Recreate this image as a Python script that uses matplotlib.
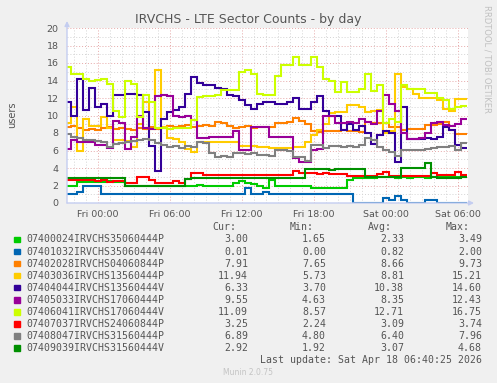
import numpy as np
import matplotlib
matplotlib.use("Agg")
import matplotlib.pyplot as plt

# ---------------- data ----------------
# sample times in hours relative to Fri 00:00 (half-hour samples)
hours = np.arange(-2.5, 30.51, 0.5)

series_names = [
    "07400024IRVCHS35060444P", "07401032IRVCHS35060444V", "07402028IRVCHS04060844P",
    "07403036IRVCHS13560444P", "07404044IRVCHS13560444V", "07405033IRVCHS17060444P",
    "07406041IRVCHS17060444V", "07407037IRVCHS24060844P", "07408047IRVCHS31560444P",
    "07409039IRVCHS31560444V",
]
series_colors = ["#00CC00", "#0066B3", "#FF8000", "#FFCC00", "#330099",
                 "#990099", "#CCFF00", "#FF0000", "#808080", "#008F00"]

cur_vals = [3.00, 0.01, 7.91, 11.94, 6.33, 9.55, 11.09, 3.25, 6.89, 2.92]
min_vals = [1.65, 0.00, 7.65, 5.73, 3.70, 4.63, 8.57, 2.24, 4.80, 1.92]
avg_vals = [2.33, 0.82, 8.66, 8.81, 10.38, 8.35, 12.71, 3.09, 6.40, 3.07]
max_vals = [3.49, 2.00, 9.73, 15.21, 14.60, 12.43, 16.75, 3.74, 7.96, 4.68]

s_07400024 = [2.0, 2.0, 2.35, 2.4, 2.45, 2.45, 2.4, 2.5, 2.45, 2.4,
              2.0, 1.95, 2.0, 2.0, 1.95, 1.9, 1.9, 1.9, 1.95, 1.9,
              1.95, 2.0, 2.05, 2.0, 1.9, 1.95, 1.9, 1.95, 2.3, 2.5,
              2.3, 2.2, 1.9, 1.75, 2.6, 2.0, 2.0, 1.95, 2.0, 1.95,
              2.0, 1.7, 1.7, 1.7, 1.7, 1.7, 1.7, 2.6, 2.9, 2.9,
              2.9, 2.9, 3.0, 3.0, 2.95, 2.9, 3.0, 2.9, 3.0, 3.0,
              2.9, 3.0, 3.0, 2.95, 3.0, 3.0, 3.0]
s_07401032 = [1.0, 1.0, 1.3, 2.0, 2.0, 1.9, 1.0, 1.0, 1.0, 1.0,
              1.0, 1.0, 1.0, 1.0, 1.0, 1.0, 1.0, 1.0, 1.0, 1.0,
              1.0, 1.0, 1.0, 1.0, 1.0, 1.0, 1.0, 1.0, 1.0, 1.0,
              1.7, 1.0, 1.0, 1.3, 1.0, 1.0, 1.0, 1.0, 1.0, 1.0,
              1.0, 1.0, 1.0, 1.0, 1.0, 1.0, 1.0, 1.0, 0.0, 0.0,
              0.0, 0.0, 0.0, 0.6, 0.4, 0.8, 0.3, 0.0, 0.0, 0.0,
              0.3, 0.4, 0.0, 0.0, 0.0, 0.0, 0.01]
s_07402028 = [8.7, 8.8, 8.6, 8.4, 8.5, 8.4, 8.6, 8.7, 8.5, 8.6,
              8.5, 8.4, 8.6, 8.5, 8.7, 8.5, 8.6, 8.8, 8.7, 8.8,
              8.9, 8.7, 8.8, 8.9, 8.8, 9.3, 9.2, 8.8, 8.6, 8.7,
              8.8, 8.6, 8.7, 8.7, 8.7, 9.1, 9.2, 9.3, 9.7, 9.4,
              9.0, 8.2, 8.1, 8.2, 8.2, 8.2, 8.4, 8.2, 8.2, 8.1,
              9.3, 9.1, 9.1, 9.1, 8.7, 8.7, 8.4, 8.5, 8.5, 8.5,
              8.9, 8.9, 9.0, 9.3, 8.3, 7.9, 7.91]
s_07403036 = [9.1, 11.0, 6.0, 9.6, 8.8, 8.8, 9.8, 8.6, 7.2, 7.2,
              7.1, 6.4, 9.0, 11.5, 8.5, 15.2, 8.7, 7.4, 7.3, 7.0,
              6.2, 5.8, 7.0, 7.0, 7.0, 7.0, 7.0, 7.0, 7.0, 6.5,
              6.5, 6.5, 6.4, 6.4, 6.3, 6.3, 6.3, 6.3, 6.4, 6.4,
              7.0, 7.8, 8.4, 9.0, 10.3, 10.4, 10.4, 11.2, 11.2, 11.0,
              10.4, 10.5, 10.6, 8.0, 8.2, 14.8, 13.3, 13.0, 12.5, 12.0,
              12.0, 12.0, 11.8, 10.8, 10.5, 11.9, 11.94]
s_07404044 = [11.5, 10.0, 14.2, 10.6, 13.1, 11.0, 11.3, 10.0, 12.3, 12.4,
              12.5, 12.5, 12.4, 10.4, 6.5, 3.7, 9.6, 10.4, 10.6, 11.0,
              12.5, 14.4, 13.7, 13.5, 13.5, 13.2, 13.0, 12.4, 12.2, 11.8,
              11.2, 10.7, 11.3, 11.5, 11.5, 11.3, 11.3, 11.5, 12.0, 10.7,
              10.7, 11.5, 12.2, 10.5, 10.0, 9.9, 8.3, 9.0, 8.3, 8.8,
              8.0, 6.8, 7.8, 8.2, 8.0, 4.7, 11.0, 7.3, 7.3, 7.3,
              7.4, 7.3, 7.5, 8.7, 8.3, 6.6, 6.33]
s_07405033 = [6.2, 7.2, 7.0, 7.0, 7.0, 6.6, 6.6, 6.3, 9.4, 9.2,
              6.2, 7.5, 10.0, 8.6, 8.5, 12.2, 12.3, 12.2, 10.0, 9.8,
              9.9, 9.5, 7.4, 7.4, 7.6, 7.6, 7.5, 7.6, 8.2, 6.1,
              6.1, 8.7, 8.7, 8.7, 7.6, 7.6, 7.6, 7.6, 5.2, 4.7,
              4.7, 6.1, 6.2, 10.0, 10.0, 9.1, 9.1, 9.3, 9.2, 9.6,
              9.3, 9.0, 10.5, 12.4, 11.3, 10.5, 8.0, 7.3, 7.3, 7.4,
              8.0, 9.2, 9.3, 8.9, 8.8, 9.0, 9.55]
s_07406041 = [15.5, 14.8, 14.7, 14.2, 14.0, 14.1, 14.2, 13.6, 10.5, 9.8,
              14.0, 13.6, 9.8, 12.3, 11.5, 8.6, 8.6, 8.5, 8.6, 8.6,
              8.6, 9.5, 12.1, 12.2, 12.2, 12.3, 12.9, 12.9, 12.9, 15.0,
              15.2, 14.8, 12.5, 12.3, 12.4, 14.5, 15.8, 15.8, 16.7, 15.8,
              15.8, 16.7, 15.5, 14.2, 13.9, 12.7, 13.8, 12.7, 12.7, 13.0,
              14.8, 12.8, 13.5, 9.1, 9.6, 9.3, 13.5, 13.0, 13.0, 13.0,
              12.6, 12.6, 12.0, 11.8, 10.8, 11.0, 11.09]
s_07407037 = [2.6, 2.6, 2.6, 2.6, 2.6, 2.5, 2.6, 2.35, 2.55, 2.5,
              2.25, 2.3, 3.0, 3.0, 2.6, 2.25, 2.25, 2.25, 2.55, 2.25,
              2.8, 3.4, 3.4, 3.2, 3.25, 3.2, 3.2, 3.15, 3.2, 3.2,
              3.25, 3.2, 3.2, 3.2, 3.2, 3.2, 3.25, 3.2, 3.7, 3.4,
              3.4, 3.4, 3.35, 3.4, 3.3, 3.3, 3.3, 3.1, 3.1, 3.1,
              3.1, 3.1, 3.3, 3.6, 3.1, 3.1, 3.1, 3.1, 3.1, 3.1,
              3.1, 3.4, 3.2, 3.2, 3.2, 3.6, 3.25]
s_07408047 = [7.9, 7.6, 7.4, 7.2, 7.2, 7.1, 7.0, 6.4, 6.8, 6.9,
              7.0, 7.1, 7.2, 7.3, 7.2, 6.9, 6.6, 6.4, 6.5, 6.3,
              6.5, 6.4, 7.0, 6.9, 5.7, 5.3, 5.4, 5.3, 5.7, 5.7,
              5.6, 5.7, 5.5, 5.5, 5.4, 6.1, 6.1, 6.0, 5.3, 5.3,
              4.8, 6.6, 6.6, 6.3, 6.5, 6.5, 6.4, 6.5, 6.4, 6.6,
              7.4, 7.2, 6.4, 6.1, 5.8, 5.4, 6.1, 6.1, 6.1, 6.1,
              6.2, 6.3, 6.4, 6.4, 6.5, 6.1, 6.89]
s_07409039 = [2.9, 2.9, 2.9, 2.9, 2.9, 2.9, 2.9, 2.9, 2.9, 2.9,
              2.0, 1.95, 1.95, 2.0, 2.0, 1.95, 2.0, 2.0, 2.0, 2.0,
              2.8, 2.9, 2.9, 2.9, 2.9, 2.9, 2.9, 2.9, 2.9, 2.9,
              2.9, 2.9, 2.9, 2.9, 2.9, 2.9, 2.9, 2.9, 2.9, 2.9,
              3.85, 3.85, 3.85, 3.85, 3.8, 3.85, 3.85, 3.85, 3.85, 3.85,
              3.0, 3.0, 3.0, 3.0, 3.0, 3.0, 4.0, 4.0, 4.0, 4.0,
              4.6, 2.95, 2.9, 2.9, 2.9, 2.9, 2.92]

series_values = [s_07400024, s_07401032, s_07402028, s_07403036, s_07404044,
                 s_07405033, s_07406041, s_07407037, s_07408047, s_07409039]

x_tick_hours = [0, 6, 12, 18, 24, 30]
x_tick_labels = ["Fri 00:00", "Fri 06:00", "Fri 12:00", "Fri 18:00", "Sat 00:00", "Sat 06:00"]
y_ticks = list(range(0, 21, 2))

# ---------------- figure ----------------
W, H = 497, 383
BG = "#F0F0F0"
TXT = "#555555"
fig = plt.figure(figsize=(W / 100, H / 100), dpi=100, facecolor=BG)

def fx(px):
    return px / W

def fy(py):
    return 1 - py / H

ax = fig.add_axes([fx(67), fy(203), fx(468) - fx(67), fy(28) - fy(203)])
ax.set_facecolor("white")
ax.set_xlim(-2.583, 30.833)
ax.set_ylim(0, 20)

# grid
ax.set_xticks(x_tick_hours)
ax.set_xticks(np.arange(-2, 31, 1), minor=True)
ax.set_yticks(y_ticks)
ax.set_yticks(np.arange(1, 20, 2), minor=True)
ax.grid(which="minor", color="#d4d4d4", linestyle=(0, (1, 2)), linewidth=0.7)
ax.grid(which="major", color="#e6a8a8", linestyle=(0, (1, 2)), linewidth=0.7)
ax.set_axisbelow(True)
for s in ax.spines.values():
    s.set_visible(False)

ax.set_xticklabels(x_tick_labels)
ax.tick_params(axis="both", which="both", length=0, colors=TXT, labelsize=6.8)
ax.tick_params(axis="x", pad=5)
ax.tick_params(axis="y", pad=6)

# series as step lines
edges = np.append(hours - 0.25, hours[-1] + 0.25)
for vals, col in zip(series_values, series_colors):
    ax.stairs(vals, edges, color=col, linewidth=1.5, baseline=None)

# axis lines with arrows
axis_col = "#c4cdf0"
ax.annotate("", xy=(0, 1.04), xytext=(0, 0), xycoords="axes fraction",
            arrowprops=dict(arrowstyle="-|>", color=axis_col, lw=1.0, mutation_scale=7,
                            shrinkA=0, shrinkB=0), annotation_clip=False)
ax.annotate("", xy=(1.015, 0), xytext=(0, 0), xycoords="axes fraction",
            arrowprops=dict(arrowstyle="-|>", color=axis_col, lw=1.0, mutation_scale=7,
                            shrinkA=0, shrinkB=0), annotation_clip=False)

# titles
fig.text(0.5, fy(19), "IRVCHS - LTE Sector Counts - by day", ha="center", va="center",
         fontsize=9, color=TXT)
fig.text(fx(12), fy(115), "users", rotation=90, ha="center", va="center",
         fontsize=7, color=TXT)
fig.text(fx(487), fy(5), "RRDTOOL / TOBI OETIKER", rotation=270, ha="center", va="top",
         fontsize=6, color="#c0c0c0")

# legend
mono = "DejaVu Sans Mono"
lfs = 7.1
col_right = [248, 326, 404, 482]
headers = ["Cur:", "Min:", "Avg:", "Max:"]
for xr, h in zip(col_right, headers):
    fig.text(fx(xr - 12), fy(227.5), h, ha="right", va="center", fontsize=lfs,
             family=mono, color=TXT)

row0, dy = 239.5, 12.07
for i, name in enumerate(series_names):
    y = row0 + i * dy
    fig.patches.append(plt.Rectangle((fx(14), fy(y + 2.7)), fx(5.5), 5.5 / H,
                                     transform=fig.transFigure, color=series_colors[i]))
    fig.text(fx(26.5), fy(y), name, ha="left", va="center", fontsize=lfs,
             family=mono, color=TXT)
    for xr, v in zip(col_right, (cur_vals[i], min_vals[i], avg_vals[i], max_vals[i])):
        fig.text(fx(xr), fy(y), f"{v:.2f}", ha="right", va="center", fontsize=lfs,
                 family=mono, color=TXT)

fig.text(fx(482), fy(360), "Last update: Sat Apr 18 06:40:25 2026", ha="right",
         va="center", fontsize=lfs, family=mono, color=TXT)
fig.text(fx(248), fy(372.5), "Munin 2.0.75", ha="center", va="center",
         fontsize=5.5, color="#c4c4c4")

fig.savefig("out.png", dpi=100, facecolor=BG)
